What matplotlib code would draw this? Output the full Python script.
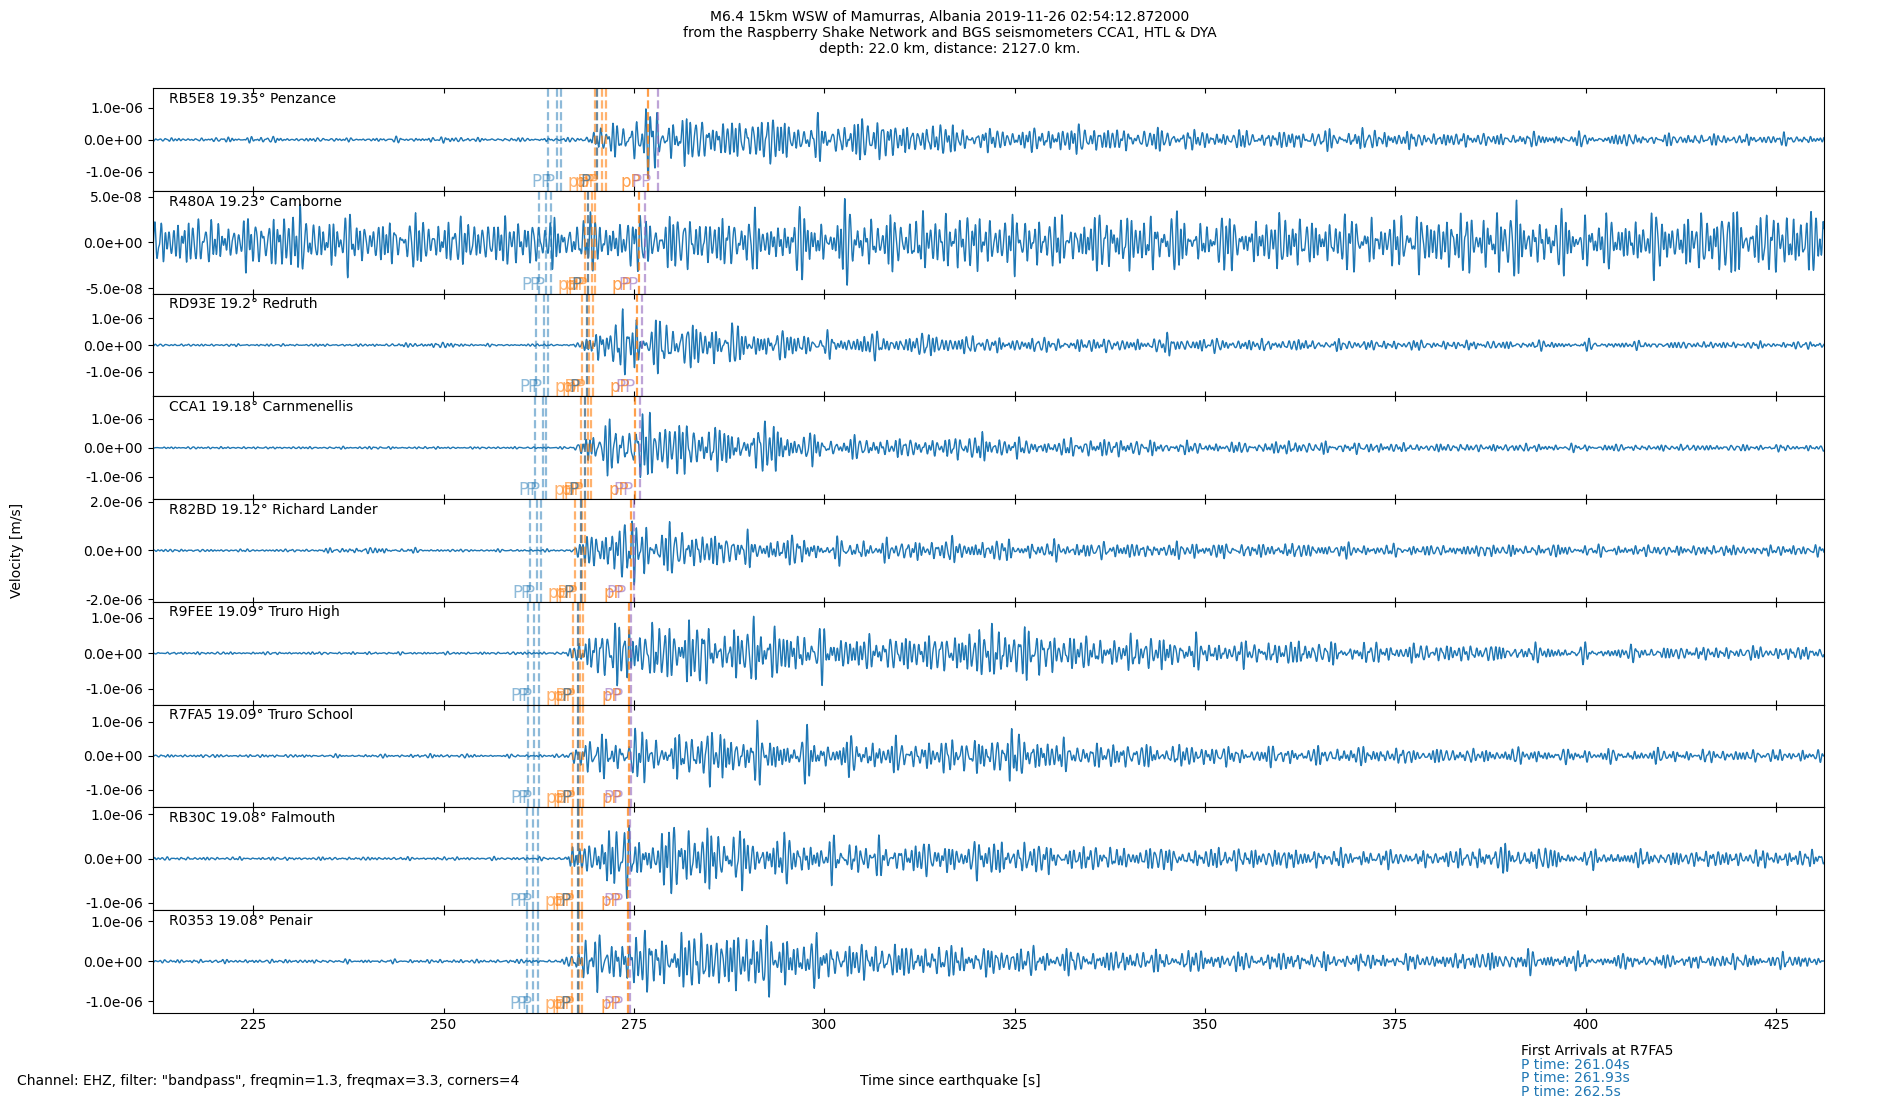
import numpy as np
import matplotlib
matplotlib.use('Agg')
import matplotlib.pyplot as plt
from matplotlib.ticker import FormatStrFormatter, MultipleLocator

# ---------------- data ----------------
stations = ['RB5E8', 'R480A', 'RD93E', 'CCA1', 'R82BD', 'R9FEE', 'R7FA5', 'RB30C', 'R0353']
distances = [19.35, 19.23, 19.2, 19.18, 19.12, 19.09, 19.09, 19.08, 19.08]
places = ['Penzance', 'Camborne', 'Redruth', 'Carnmenellis', 'Richard Lander',
          'Truro High', 'Truro School', 'Falmouth', 'Penair']

# y limits and tick values per panel (m/s)
ylims = [1.6e-6, 5.6e-8, 1.93e-6, 1.78e-6, 2.1e-6, 1.44e-6, 1.51e-6, 1.16e-6, 1.28e-6]
yticks = [1e-6, 5e-8, 1e-6, 1e-6, 2e-6, 1e-6, 1e-6, 1e-6, 1e-6]

# amplitude envelope knots (s) and peak amplitudes read per panel (micro m/s)
env_t = [212, 220, 225, 230, 240, 250, 255, 260, 265, 266, 267, 268, 269, 270, 272, 275, 278,
         282, 286, 290, 294, 298, 302, 306, 310, 315, 320, 325, 330, 335, 340, 345, 350, 355,
         360, 370, 380, 390, 400, 410, 420, 432]
env_RB5E8 = [0.06, 0.06, 0.12, 0.06, 0.06, 0.10, 0.06, 0.06, 0.06, 0.06, 0.08, 0.10, 0.15, 0.45,
             0.50, 0.80, 1.20, 0.80, 0.70, 0.75, 0.85, 0.60, 0.65, 0.80, 0.55, 0.55, 0.40, 0.35,
             0.45, 0.50, 0.35, 0.40, 0.30, 0.30, 0.30, 0.35, 0.25, 0.22, 0.20, 0.20, 0.18, 0.18]
env_R480A = [0.030, 0.028, 0.030, 0.040, 0.028, 0.030, 0.028, 0.030, 0.028, 0.030, 0.030, 0.030,
             0.030, 0.030, 0.030, 0.032, 0.033, 0.035, 0.030, 0.033, 0.030, 0.035, 0.042, 0.033,
             0.032, 0.035, 0.035, 0.033, 0.030, 0.033, 0.035, 0.033, 0.030, 0.030, 0.032, 0.030,
             0.033, 0.040, 0.030, 0.033, 0.040, 0.035]
env_RD93E = [0.05, 0.05, 0.05, 0.05, 0.05, 0.12, 0.05, 0.05, 0.05, 0.05, 0.05, 0.10, 0.60, 0.80,
             1.00, 1.40, 1.10, 1.00, 0.90, 0.70, 0.60, 0.50, 0.45, 0.50, 0.45, 0.50, 0.35, 0.30,
             0.30, 0.30, 0.25, 0.40, 0.30, 0.25, 0.25, 0.22, 0.20, 0.18, 0.18, 0.15, 0.15, 0.15]
env_CCA1 = [0.04, 0.04, 0.04, 0.04, 0.05, 0.04, 0.04, 0.04, 0.04, 0.04, 0.05, 0.30, 0.70, 0.80,
            0.90, 1.30, 1.20, 1.00, 0.80, 0.70, 1.00, 0.50, 0.40, 0.40, 0.35, 0.35, 0.55, 0.35,
            0.25, 0.40, 0.30, 0.25, 0.20, 0.20, 0.25, 0.20, 0.15, 0.15, 0.13, 0.12, 0.12, 0.12]
env_R82BD = [0.06, 0.06, 0.06, 0.06, 0.15, 0.06, 0.06, 0.06, 0.06, 0.06, 0.10, 0.50, 0.80, 0.90,
             1.20, 1.60, 1.20, 1.00, 0.80, 0.70, 0.65, 0.60, 0.50, 0.50, 0.45, 0.55, 0.50, 0.45,
             0.40, 0.40, 0.35, 0.35, 0.40, 0.30, 0.35, 0.30, 0.25, 0.30, 0.25, 0.25, 0.25, 0.25]
env_R9FEE = [0.04, 0.04, 0.04, 0.04, 0.04, 0.04, 0.04, 0.04, 0.04, 0.05, 0.20, 0.50, 0.70, 0.80,
             0.90, 1.00, 0.90, 1.00, 0.85, 0.90, 0.85, 0.70, 0.60, 0.55, 0.55, 0.60, 0.75, 0.95,
             0.60, 0.50, 0.50, 0.55, 0.40, 0.35, 0.40, 0.30, 0.28, 0.25, 0.22, 0.20, 0.20, 0.22]
env_R7FA5 = [0.05, 0.05, 0.05, 0.05, 0.05, 0.07, 0.05, 0.05, 0.05, 0.10, 0.35, 0.55, 0.50, 0.90,
             0.60, 0.80, 0.80, 0.70, 1.00, 0.80, 0.75, 0.70, 0.55, 0.60, 0.50, 0.55, 0.60, 0.85,
             0.50, 0.45, 0.40, 0.40, 0.35, 0.30, 0.30, 0.30, 0.25, 0.25, 0.22, 0.22, 0.20, 0.22]
env_RB30C = [0.04, 0.04, 0.04, 0.04, 0.04, 0.04, 0.04, 0.04, 0.04, 0.08, 0.30, 0.35, 0.40, 0.50,
             0.95, 0.70, 0.80, 0.80, 0.85, 0.60, 0.55, 0.50, 0.45, 0.45, 0.40, 0.40, 0.45, 0.45,
             0.35, 0.30, 0.30, 0.30, 0.25, 0.30, 0.25, 0.22, 0.20, 0.35, 0.20, 0.20, 0.22, 0.20]
env_R0353 = [0.05, 0.05, 0.05, 0.05, 0.05, 0.05, 0.05, 0.05, 0.05, 0.08, 0.30, 0.50, 0.55, 0.85,
             0.60, 0.75, 0.80, 0.80, 0.85, 0.85, 0.90, 0.60, 0.55, 0.50, 0.45, 0.45, 0.40, 0.40,
             0.35, 0.30, 0.30, 0.30, 0.28, 0.25, 0.25, 0.22, 0.20, 0.30, 0.20, 0.18, 0.20, 0.20]
envelopes = [env_RB5E8, env_R480A, env_RD93E, env_CCA1, env_R82BD, env_R9FEE,
             env_R7FA5, env_RB30C, env_R0353]

# predicted arrival times per panel (s)
arr_P = [[263.7, 264.9, 265.4], [262.5, 263.5, 264.1], [262.2, 263.2, 263.7],
         [262.0, 263.0, 263.5], [261.3, 262.3, 262.8], [261.04, 261.93, 262.5],
         [261.04, 261.93, 262.5], [260.9, 261.8, 262.4], [260.9, 261.8, 262.4]]
arr_pP = [[269.9, 270.8, 271.3], [268.6, 269.5, 269.9], [268.2, 269.1, 269.6],
          [268.0, 268.9, 269.3], [267.3, 268.2, 268.6], [267.0, 267.9, 268.3],
          [267.0, 267.9, 268.3], [266.9, 267.8, 268.2], [266.9, 267.8, 268.2]]
arr_X = [270.2, 269.0, 268.8, 268.6, 268.0, 267.7, 267.7, 267.6, 267.6]
arr_pP2 = [276.8, 275.6, 275.4, 275.2, 274.6, 274.3, 274.3, 274.2, 274.2]
arr_PP = [278.2, 276.5, 276.1, 275.8, 275.0, 274.6, 274.6, 274.5, 274.5]

first_P = [261.04, 261.93, 262.5]

title_lines = ['M6.4 15km WSW of Mamurras, Albania 2019-11-26 02:54:12.872000',
               'from the Raspberry Shake Network and BGS seismometers CCA1, HTL & DYA',
               'depth: 22.0 km, distance: 2127.0 km.']

# ---------------- figure ----------------
plt.rcParams['font.family'] = ['DejaVu Sans']
fig = plt.figure(figsize=(19, 11), dpi=100)
axes = fig.subplots(9, 1, sharex=True,
                    gridspec_kw=dict(hspace=0, left=0.0804, right=0.96,
                                     top=0.9197, bottom=0.0794))

fs = 25.0
t = np.arange(211.8, 431.3, 1.0 / fs)
freqs = [1.05, 1.19, 1.37, 1.52, 1.68, 1.86, 2.04, 2.31]


def carrier(k):
    c = np.zeros_like(t)
    for j, f in enumerate(freqs):
        ph = ((j + 1) * (k + 3) * 2.399) % (2 * np.pi)
        wob = 0.8 * np.sin(2 * np.pi * (0.013 + 0.005 * j) * t + ph * 0.7)
        c += np.sin(2 * np.pi * f * t + ph + wob)
    return c / np.percentile(np.abs(c), 99)


col_P = ('#1f77b4', 0.5)
col_pP = ('#ff7f0e', 0.6)
col_X = ('#4f7590', 0.85)
col_pP2 = ('#ff7f0e', 0.75)
col_PP = ('#9467bd', 0.6)

for k, ax in enumerate(axes):
    env = np.interp(t, env_t, envelopes[k]) * 1e-6
    y = env * carrier(k)
    ax.plot(t, y, color='#1f77b4', lw=1.0)
    L = ylims[k]
    ax.set_ylim(-L, L)
    ax.set_xlim(211.8, 431.3)
    ax.set_yticks([-yticks[k], 0, yticks[k]])
    ax.yaxis.set_major_formatter(FormatStrFormatter('%.1e'))
    ax.xaxis.set_major_locator(MultipleLocator(25))
    ax.tick_params(axis='x', direction='in', top=True, labelsize=10)
    ax.tick_params(axis='y', direction='out', labelsize=10)
    ax.text(0.01, 0.965, f'{stations[k]} {distances[k]}° {places[k]}',
            transform=ax.transAxes, va='top', ha='left', fontsize=10)

    groups = [(arr_P[k], 'P', col_P), (arr_pP[k], 'pP', col_pP),
              ([arr_X[k]], 'P', col_X), ([arr_pP2[k]], 'pP', col_pP2),
              ([arr_PP[k]], 'PP', col_PP)]
    for times, lab, (c, a) in groups:
        for tt in times:
            ax.axvline(tt, color=c, alpha=a, ls='--', lw=1.6)
            ax.text(tt - 0.9, -L, lab, ha='right', va='bottom', color=c,
                    alpha=a, fontsize=12)

# titles and annotations
for i, line in enumerate(title_lines):
    fig.text(0.5, 0.9845 - i * 0.0143, line, ha='center', va='center', fontsize=10)

fig.text(0.009, 0.5, 'Velocity [m/s]', rotation=90, ha='center', va='center', fontsize=10)
fig.text(0.5, 0.0175, 'Time since earthquake [s]', ha='center', va='center', fontsize=10)
fig.text(0.009, 0.0175, 'Channel: EHZ, filter: "bandpass", freqmin=1.3, freqmax=3.3, corners=4',
         ha='left', va='center', fontsize=10)
fig.text(0.8005, 1 - 1051 / 1100, 'First Arrivals at R7FA5', ha='left', va='center',
         fontsize=10, color='black')
for i, p in enumerate(first_P):
    fig.text(0.8005, 1 - (1065 + 13.4 * i) / 1100, f'P time: {p}s', ha='left',
             va='center', fontsize=10, color='#1f77b4')

fig.savefig('out.png', dpi=100)
